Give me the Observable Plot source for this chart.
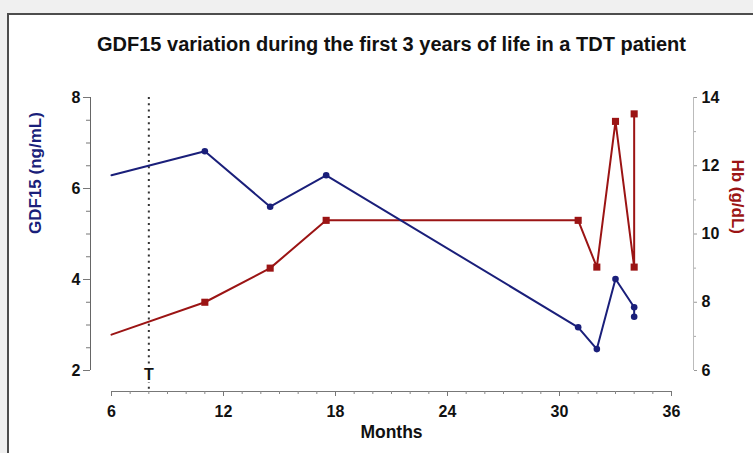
<!DOCTYPE html>
<html>
<head>
<meta charset="utf-8">
<script src="https://cdn.jsdelivr.net/npm/d3@7"></script>
<script src="https://cdn.jsdelivr.net/npm/@observablehq/plot@0.6"></script>
<style>
  html, body { margin: 0; padding: 0; background: #f0f0f0; }
  #panel {
    position: absolute; left: 7px; top: 13px; width: 760px; height: 460px;
    background: #ffffff; border-left: 2px solid #4d4d4d; border-top: 2px solid #4d4d4d;
  }
  #chart { position: absolute; left: 0; top: 0; }
</style>
</head>
<body>
<div id="panel"></div>
<div id="chart"></div>
<script>
// Sampling times (months of age) and the two measured series
const months = [6, 11, 14.5, 17.5, 31, 32, 33, 34, 34];
const gdf15 = [6.29, 6.82, 5.6, 6.29, 2.95, 2.47, 4.01, 3.39, 3.18];   // ng/mL
const hb = [7.05, 8.0, 9.0, 10.4, 10.4, 9.03, 13.3, 9.03, 13.52];     // g/dL

// Axis ticks
const monthTicks = [6, 12, 18, 24, 30, 36];
const monthMinor = d3.range(6, 37, 1);
const gdfTicks = [2, 4, 6, 8];
const gdfMinor = d3.range(2, 8.01, 0.5);
const hbTicks = [6, 8, 10, 12, 14];
const hbMinor = [7, 9, 11, 13];

// Start of transfusions
const transfusion = [{month: 8, label: "T"}];

const title = "GDF15 variation during the first 3 years of life in a TDT patient";

const blue = "#1a1f7a";
const red = "#9b1414";

// Hb shares the plot with GDF15: map the Hb range [6, 14] onto [2, 8]
const hbToG = d3.scaleLinear().domain([6, 14]).range([2, 8]);

const rows = months.map((m, i) => ({month: m, gdf: gdf15[i], hb: hbToG(hb[i])}));
const marked = rows.slice(1);

const font = "'Liberation Sans', Arial, Helvetica, sans-serif";
const axisText = {fontSize: 16, fontWeight: "bold", fill: "#111", stroke: "#777", label: null};

const plot = Plot.plot({
  width: 753,
  height: 453,
  marginLeft: 111,
  marginRight: 82,
  marginTop: 97,
  marginBottom: 83,
  style: {background: "transparent", fontFamily: font, overflow: "visible"},
  x: {domain: [6, 36], axis: null},
  y: {domain: [2, 8], axis: null},
  marks: [
    // left (GDF15) axis, offset from the plotting area
    Plot.ruleX([6], {y1: 2, y2: 8, dx: -21, stroke: "#666"}),
    Plot.axisY(gdfMinor, {anchor: "left", dx: -21, tickSize: 4, tickFormat: () => "", stroke: "#777", label: null}),
    Plot.axisY(gdfTicks, {anchor: "left", dx: -21, tickSize: 7, tickPadding: 3, tickFormat: d => d, ...axisText}),

    // bottom (months) axis
    Plot.ruleY([2], {x1: 6, x2: 36, dy: 21, stroke: "#777"}),
    Plot.axisX(monthMinor, {anchor: "bottom", dy: 21, tickSize: 3, tickFormat: () => "", stroke: "#888", label: null}),
    Plot.axisX(monthTicks, {anchor: "bottom", dy: 21, tickSize: 5, tickPadding: 9, tickFormat: d => d, ...axisText}),

    // right (Hb) axis
    Plot.ruleX([36], {y1: 2, y2: 8, dx: 22, stroke: "#bbb"}),
    Plot.axisY(hbMinor.map(hbToG), {anchor: "right", dx: 22, tickSize: 2, tickFormat: () => "", stroke: "#aaa", label: null}),
    Plot.axisY(hbTicks.map(hbToG), {anchor: "right", dx: 22, tickSize: 3, tickPadding: 5,
      tickFormat: g => Math.round(hbToG.invert(g)), ...axisText, stroke: "#999"}),

    // transfusion start
    Plot.ruleX(transfusion, {x: "month", y1: 8, y2: 2, insetBottom: -21, stroke: "#333", strokeWidth: 2, strokeDasharray: "2,4.3"}),
    Plot.text(transfusion, {x: "month", frameAnchor: "bottom", dy: 9, text: "label", fontSize: 16, fontWeight: "bold",
      fill: "#111", stroke: "white", strokeWidth: 4}),

    // series
    Plot.line(rows, {x: "month", y: "hb", stroke: red, strokeWidth: 2}),
    Plot.dot(marked, {x: "month", y: "hb", symbol: "square", r: 4, fill: red}),
    Plot.line(rows, {x: "month", y: "gdf", stroke: blue, strokeWidth: 2}),
    Plot.dot(marked, {x: "month", y: "gdf", r: 3.3, fill: blue}),

    // titles
    Plot.text([title], {frameAnchor: "top", dy: -61, text: d => d, fontSize: 20, fontWeight: "bold", fill: "#111"}),
    Plot.text(["Months"], {frameAnchor: "bottom", dy: 67, text: d => d, fontSize: 17.5, fontWeight: "bold", fill: "#111"}),
    Plot.text(["GDF15 (ng/mL)"], {frameAnchor: "left", dx: -76, rotate: -90, text: d => d, fontSize: 17, fontWeight: "bold", fill: blue}),
    Plot.text(["Hb (g/dL)"], {frameAnchor: "right", dx: 66, rotate: 90, text: d => d, fontSize: 17, fontWeight: "bold", fill: red})
  ]
});

document.getElementById("chart").appendChild(plot);
</script>
</body>
</html>
